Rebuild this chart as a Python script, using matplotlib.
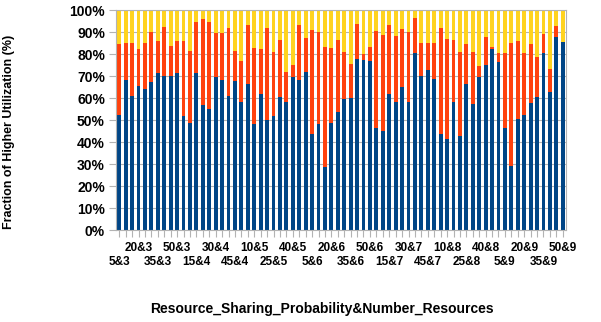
import numpy as np
import matplotlib
matplotlib.use("Agg")
import matplotlib.pyplot as plt

# categories: sharing probability x number of resources
probabilities = [5, 10, 15, 20, 25, 30, 35, 40, 45, 50]
resources = [3, 4, 5, 6, 7, 8, 9]
labels = [f"{p}&{n}" for n in resources for p in probabilities]

# stacked shares (%)
blue = [52.3, 68.2, 61.1, 65.5, 63.9, 67.3, 71.4, 70.0, 70.0, 71.4,
        51.8, 48.8, 71.4, 56.8, 55.2, 69.5, 68.2, 61.0, 67.7, 58.0,
        66.2, 48.2, 61.7, 50.0, 51.8, 60.6, 58.0, 69.5, 68.2, 71.8,
        43.6, 48.2, 28.8, 48.6, 53.8, 59.5, 59.8, 77.9, 77.4, 77.0,
        46.4, 45.2, 61.7, 58.3, 64.8, 58.3, 80.3, 70.0, 72.7, 68.6,
        43.6, 41.4, 58.0, 42.7, 66.2, 57.4, 69.5, 75.2, 82.1, 76.5,
        46.4, 29.2, 50.6, 52.3, 57.9, 60.6, 80.3, 62.6, 87.6, 85.3]
orange = [32.1, 17.0, 23.7, 16.6, 20.9, 22.5, 14.4, 22.1, 13.8, 14.4,
          34.0, 32.7, 23.1, 39.1, 39.3, 20.0, 21.3, 31.0, 13.8, 18.8,
          27.0, 34.7, 20.7, 41.7, 29.3, 25.6, 13.8, 5.5, 25.0, 15.3,
          47.3, 41.6, 54.5, 34.3, 32.4, 21.3, 15.7, 15.7, 2.4, 6.3,
          44.1, 43.4, 31.5, 29.9, 26.4, 31.5, 16.1, 14.8, 12.1, 16.2,
          48.1, 45.3, 28.2, 38.1, 18.2, 23.7, 5.0, 12.4, 1.2, 3.8,
          33.9, 55.6, 35.2, 28.0, 26.5, 18.2, 8.8, 10.6, 5.1, 0.0]
yellow = [15.6, 14.8, 15.2, 17.9, 15.2, 10.2, 14.2, 7.9, 16.2, 14.2,
          14.2, 18.5, 5.5, 4.1, 5.5, 10.5, 10.5, 8.0, 18.5, 23.2,
          6.8, 17.1, 17.6, 8.3, 18.9, 13.8, 28.2, 25.0, 6.8, 12.9,
          9.1, 10.2, 16.7, 17.1, 13.8, 19.2, 24.5, 6.4, 20.2, 16.7,
          9.5, 11.4, 6.8, 11.8, 8.8, 10.2, 3.6, 15.2, 15.2, 15.2,
          8.3, 13.3, 13.8, 19.2, 15.6, 18.9, 25.5, 12.4, 16.7, 19.7,
          19.7, 15.2, 14.2, 19.7, 15.6, 21.2, 10.9, 26.8, 7.3, 14.7]

BLUE = '#004586'
ORANGE = '#ff420e'
YELLOW = '#ffd320'
GRID = '#b3b3b3'

plt.rcParams['font.family'] = ['Liberation Sans', 'DejaVu Sans']
plt.rcParams['font.weight'] = 'bold'

fig = plt.figure(figsize=(6.01, 3.22), dpi=100, facecolor='white')
ax = fig.add_axes([116 / 601, 1 - 230 / 322, 450 / 601, 220 / 322])

x = np.arange(len(labels))
b = np.array(blue)
o = np.array(orange)
y = np.array(yellow)
w = 0.6
ax.bar(x, b, width=w, color=BLUE, zorder=2)
ax.bar(x, o, width=w, bottom=b, color=ORANGE, zorder=2)
ax.bar(x, y, width=w, bottom=b + o, color=YELLOW, zorder=2)

ax.set_xlim(-0.5, len(labels) - 0.5)
ax.set_ylim(0, 100)
ax.set_yticks(np.arange(0, 101, 10))
ax.set_yticklabels([f"{v}%" for v in range(0, 101, 10)])
ax.yaxis.grid(True, color=GRID, linewidth=0.8, zorder=0)
ax.set_axisbelow(True)

# tick marks under every bar, labels every third bar in two rows
ax.set_xticks(x)
ax.set_xticklabels([])
trans = ax.get_xaxis_transform()
for i, lab in enumerate(labels):
    if i % 3 != 0:
        continue
    row_y = -0.145 if (i // 3) % 2 == 0 else -0.082
    ax.text(i, row_y, lab, transform=trans, ha='center', va='center',
            fontsize=8.5, fontweight='bold')

ax.tick_params(axis='x', length=5, width=0.8, color=GRID)
ax.tick_params(axis='y', length=5, width=0.8, color=GRID, pad=3, labelsize=10)
for s in ax.spines.values():
    s.set_color(GRID)
    s.set_linewidth(0.8)

ax.set_ylabel("Fraction of Higher Utilization (%)", fontsize=9, fontweight='bold')
ax.yaxis.set_label_coords(-0.224, 0.445)
ax.set_xlabel("Resource_Sharing_Probability&Number_Resources", fontsize=10, fontweight='bold')
ax.xaxis.set_label_coords(0.458, -0.327)

fig.savefig('out.png', dpi=100)
